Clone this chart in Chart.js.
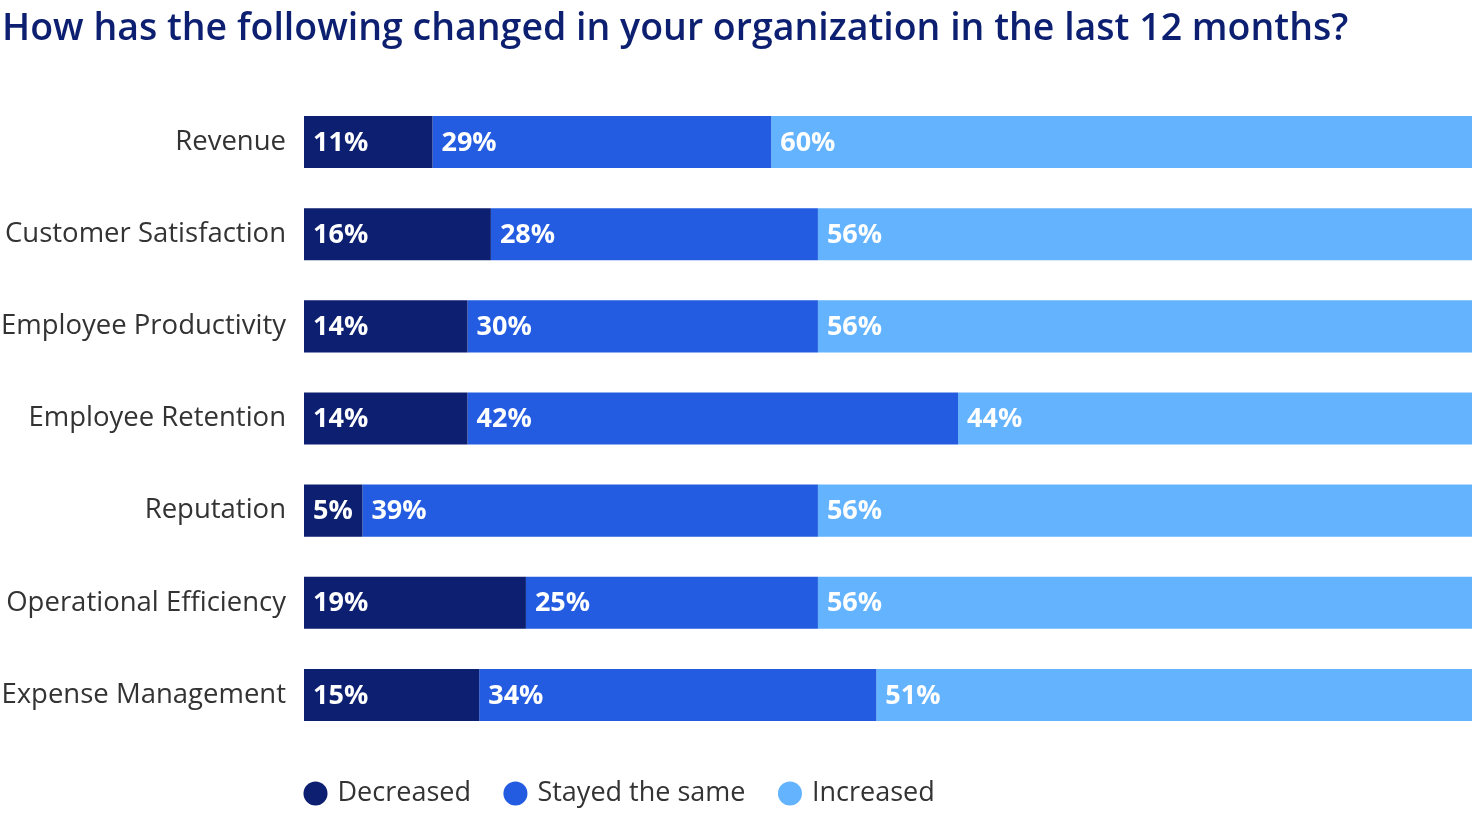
<!DOCTYPE html>
<html>
<head>
<meta charset="utf-8">
<script src="https://cdn.jsdelivr.net/npm/chart.js@4"></script>
<style>
  html, body { margin: 0; padding: 0; background: #fff; }
  #wrap { width: 1472px; height: 824px; }
</style>
</head>
<body>
<div id="wrap"><canvas id="chart"></canvas></div>
<script>
// data
const categories = ['Revenue', 'Customer Satisfaction', 'Employee Productivity', 'Employee Retention', 'Reputation', 'Operational Efficiency', 'Expense Management'];
const decreased = [11, 16, 14, 14, 5, 19, 15];
const stayedSame = [29, 28, 30, 42, 39, 25, 34];
const increased = [60, 56, 56, 44, 56, 56, 51];
const seriesNames = ['Decreased', 'Stayed the same', 'Increased'];
const colors = ['#0c1f70', '#235ce0', '#63b3ff'];

const fontFamily = '"Open Sans", "Noto Sans", sans-serif';

// write the % inside each bar segment
const barLabels = {
    id: 'barLabels',
    afterDatasetsDraw(chart) {
        const ctx = chart.ctx;
        ctx.save();
        ctx.fillStyle = '#ffffff';
        ctx.font = 'bold 27px ' + fontFamily;
        ctx.textBaseline = 'middle';
        ctx.textAlign = 'left';
        chart.data.datasets.forEach((ds, i) => {
            chart.getDatasetMeta(i).data.forEach((bar, j) => {
                const left = Math.min(bar.x, bar.base);
                ctx.fillText(ds.data[j] + '%', left + 9, bar.y + 1);
            });
        });
        ctx.restore();
    }
};

// legend should start at the left edge of the bars
const legendShift = {
    id: 'legendShift',
    beforeDraw(chart) {
        const lg = chart.legend;
        lg.left = chart.chartArea.left - lg.options.labels.padding + 3;
        lg.top = chart.chartArea.bottom + 3;
    }
};

new Chart(document.getElementById('chart'), {
    type: 'bar',
    data: {
        labels: categories,
        datasets: [
            { label: seriesNames[0], data: decreased, backgroundColor: colors[0] },
            { label: seriesNames[1], data: stayedSame, backgroundColor: colors[1] },
            { label: seriesNames[2], data: increased, backgroundColor: colors[2] }
        ]
    },
    options: {
        indexAxis: 'y',
        responsive: true,
        maintainAspectRatio: false,
        animation: false,
        layout: { padding: { left: 2, right: 0, top: 0, bottom: 10 } },
        datasets: { bar: { categoryPercentage: 1, barPercentage: 52 / 92 } },
        scales: {
            x: { stacked: true, min: 0, max: 100, display: false },
            y: {
                stacked: true,
                grid: { display: false },
                border: { display: false },
                afterFit: (scale) => { scale.width = 302; },
                ticks: { color: '#333333', font: { family: fontFamily, size: 27.5 }, padding: 10 }
            }
        },
        plugins: {
            title: {
                display: true,
                text: 'How has the following changed in your organization in the last 12 months?',
                align: 'start',
                color: '#0c1f70',
                font: { family: fontFamily, size: 37.5, weight: 600 },
                padding: { top: 7, bottom: 44 }
            },
            legend: {
                position: 'bottom',
                align: 'start',
                fullSize: false,
                labels: {
                    usePointStyle: true,
                    pointStyle: 'circle',
                    boxWidth: 17,
                    boxHeight: 17,
                    padding: 36,
                    color: '#333333',
                    font: { family: fontFamily, size: 27 }
                }
            },
            tooltip: { enabled: false }
        }
    },
    plugins: [barLabels, legendShift]
});
</script>
</body>
</html>
